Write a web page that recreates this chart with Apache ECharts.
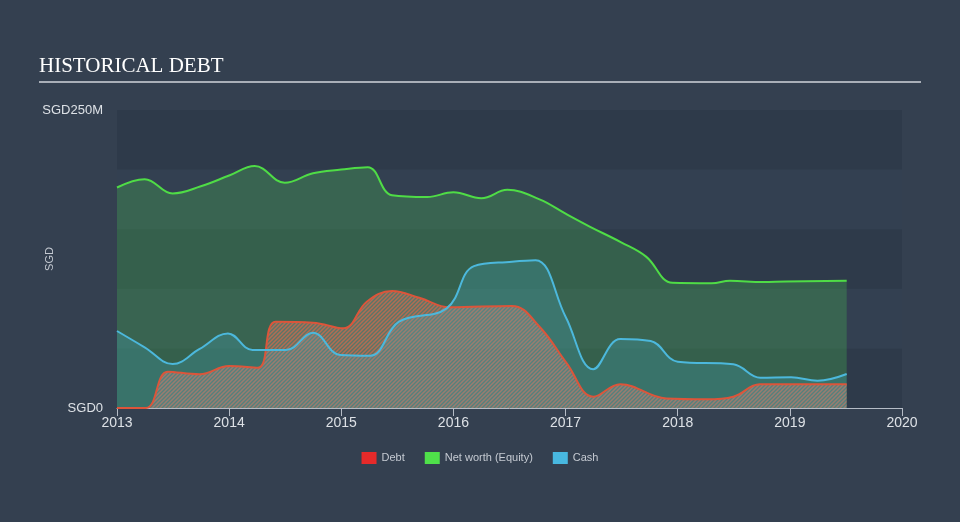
<!DOCTYPE html>
<html>
<head>
<meta charset="utf-8">
<script src="https://cdn.jsdelivr.net/npm/echarts@6/dist/echarts.min.js"></script>
<style>
html,body{margin:0;padding:0;background:#344050;}
#chart{width:960px;height:522px;}
</style>
</head>
<body>
<div id="chart"></div>
<script>
// ---- data (SGD millions) ----
const netDates = ['2013-01-01','2013-04-01','2013-07-01','2013-10-01','2014-01-01','2014-03-25','2014-07-01','2014-10-01','2015-01-01','2015-03-28','2015-06-15','2015-10-08','2016-01-01','2016-04-01','2016-06-25','2016-10-08','2017-01-01','2017-03-22','2017-07-01','2017-09-20','2017-12-15','2018-04-22','2018-06-20','2018-10-05','2018-12-20','2019-07-05'];
const netValues = [185,192,180,186,195,203,189,197,200,202,178.5,177,181,176,183,175,163,152,139,127,105,104.6,106.7,105.6,106.2,106.7];

const debtDates = ['2013-01-01','2013-04-05','2013-06-15','2013-09-27','2014-01-01','2014-04-05','2014-06-01','2014-10-01','2015-01-08','2015-03-25','2015-06-15','2015-09-12','2015-12-20','2016-07-10','2016-10-08','2017-01-05','2017-04-01','2017-06-28','2017-11-25','2018-04-05','2018-07-01','2018-09-25','2019-01-01','2019-07-05'];
const debtValues = [0,0,30.5,28.3,35.2,33.8,72.4,71.6,66.9,89.2,98.2,92.5,84.5,85.6,68.2,37.5,9.5,20,8,7.3,9.5,19.9,20,20];

const cashDates = ['2013-01-01','2013-04-01','2013-07-01','2013-09-27','2013-12-28','2014-03-18','2014-07-05','2014-10-01','2014-12-28','2015-04-05','2015-07-08','2015-12-10','2016-03-08','2016-07-10','2016-09-25','2017-01-01','2017-04-01','2017-06-28','2017-10-05','2018-01-01','2018-07-01','2018-09-27','2019-01-05','2019-04-01','2019-07-05'];
const cashValues = [64.6,50.9,36.9,49.5,62.6,48.7,48.7,63.2,44.5,43.9,72.4,83.6,119,122.7,124,76.6,32.5,57.9,56.2,38.8,36.7,25.4,25.7,22.9,28.5];

const yTicks = [0, 250];
const xYears = [2013, 2014, 2015, 2016, 2017, 2018, 2019, 2020];

// date string -> fractional year for the value axis
function yearFrac(s){
  const d = new Date(s + 'T00:00:00Z');
  const y = d.getUTCFullYear();
  const a = Date.UTC(y,0,1), b = Date.UTC(y+1,0,1);
  return y + (d.getTime() - a) / (b - a);
}
function pairs(d, v){ return d.map((x,i)=>[yearFrac(x), v[i]]); }

// hatch pattern for debt area
const pc = document.createElement('canvas');
pc.width = 4; pc.height = 4;
const g = pc.getContext('2d');
g.fillStyle = 'rgba(140,145,140,0.4)';
g.fillRect(0,0,4,4);
g.strokeStyle = 'rgba(215,105,75,0.72)';
g.lineWidth = 1.5;
g.beginPath();
g.moveTo(0,4); g.lineTo(4,0);
g.moveTo(-1,1); g.lineTo(1,-1);
g.moveTo(3,5); g.lineTo(5,3);
g.stroke();

const font = 'Arial, "Liberation Sans", sans-serif';
const chart = echarts.init(document.getElementById('chart'), null, {renderer:'canvas'});
chart.setOption({
  backgroundColor: '#344050',
  animation: false,
  graphic: [
    {type:'text', left:39, top:56, style:{text:'HISTORICAL DEBT', fill:'#ffffff', font:'21px "Liberation Serif", serif'}},
    {type:'rect', shape:{x:39, y:81, width:882, height:2}, style:{fill:'#a9afb8'}}
  ],
  legend: {
    bottom: 53, left: 'center',
    icon: 'rect', itemWidth: 15, itemHeight: 12, itemGap: 20,
    textStyle: {color:'#c5cad2', fontSize:11, fontFamily:font},
    data: ['Debt','Net worth (Equity)','Cash']
  },
  grid: {left:117, right:58, top:110, bottom:114, containLabel:false},
  xAxis: {
    type: 'value', min: xYears[0], max: xYears[xYears.length-1], interval: 1,
    axisLine: {show:true, lineStyle:{color:'#b5bcc6', width:1}},
    axisTick: {show:true, length:8, lineStyle:{color:'#b5bcc6'}},
    axisLabel: {color:'#dde1e6', fontSize:14, margin:8, fontFamily:font,
      formatter: v => xYears.indexOf(v) < 0 ? '' : String(v)},
    splitLine: {show:false}
  },
  yAxis: {
    type: 'value', min: 0, max: 250, interval: 50,
    name: 'SGD', nameLocation: 'middle', nameGap: 62, nameRotate: 90, nameMoveOverlap: false,
    nameTextStyle: {color:'#c5cad2', fontSize:11, fontFamily:font},
    axisLine: {show:false}, axisTick: {show:false},
    axisLabel: {color:'#dde1e6', fontSize:13, margin:14, fontFamily:font,
      formatter: v => yTicks.indexOf(v) < 0 ? '' : (v === 0 ? 'SGD0' : 'SGD' + v + 'M')},
    splitLine: {show:false},
    splitArea: {show:true, areaStyle:{color:['#2e3a4a','#334051']}}
  },
  series: [
    {
      name: 'Net worth (Equity)', type: 'line', data: pairs(netDates, netValues),
      smooth: 0.4, showSymbol: false,
      itemStyle: {color:'#4fe04a'},
      lineStyle: {color:'#4fdc46', width:2},
      areaStyle: {color:'rgba(74,200,80,0.27)', opacity:1}
    },
    {
      name: 'Debt', type: 'line', data: pairs(debtDates, debtValues),
      smooth: 0.4, showSymbol: false,
      itemStyle: {color:'#e62a2a'},
      lineStyle: {color:'#dc553a', width:2},
      areaStyle: {color:{image: pc, repeat:'repeat'}, opacity:1}
    },
    {
      name: 'Cash', type: 'line', data: pairs(cashDates, cashValues),
      smooth: 0.4, showSymbol: false,
      itemStyle: {color:'#48b8e0'},
      lineStyle: {color:'#4cb8dc', width:2},
      areaStyle: {color:'rgba(74,184,216,0.22)', opacity:1}
    }
  ]
});
</script>
</body>
</html>
